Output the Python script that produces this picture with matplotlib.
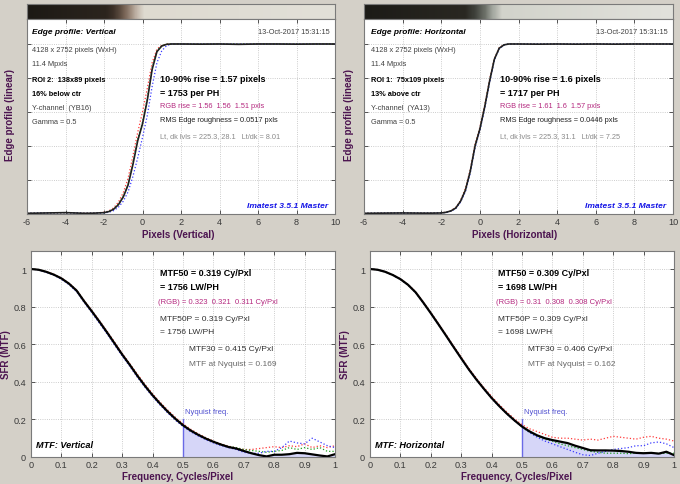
import matplotlib
matplotlib.use('Agg')
import matplotlib.pyplot as plt
from matplotlib.colors import LinearSegmentedColormap
import numpy as np

plt.rcParams['font.family'] = ['Liberation Sans', 'DejaVu Sans']
plt.rcParams['axes.unicode_minus'] = False

# ---------------- data ----------------
edge_x = [-6, -5, -4, -3, -2.5, -2, -1.75, -1.5, -1.25, -1.0, -0.75, -0.5, -0.25, 0.0,
          0.25, 0.5, 0.75, 1.0, 1.25, 1.5, 2, 3, 4, 5, 6, 7, 8, 9, 10]

# Vertical edge profile (Y, R, G, B)
edgeV_Y = [0.004, 0.006, 0.008, 0.004, 0.005, 0.008, 0.014, 0.028, 0.055, 0.10, 0.17, 0.29, 0.43, 0.53,
           0.67, 0.85, 0.955, 0.988, 0.998, 1.0, 1.0, 0.999, 1.0, 0.998, 1.0, 1.0, 0.999, 1.0, 1.0]
edgeV_R = [0.004, 0.006, 0.008, 0.005, 0.006, 0.010, 0.018, 0.036, 0.07, 0.125, 0.21, 0.34, 0.48, 0.60,
           0.74, 0.89, 0.97, 0.992, 1.0, 1.0, 1.0, 1.0, 1.0, 1.0, 1.0, 1.0, 1.0, 1.0, 1.0]
edgeV_G = [0.004, 0.006, 0.008, 0.004, 0.005, 0.008, 0.015, 0.030, 0.058, 0.105, 0.175, 0.30, 0.44, 0.54,
           0.68, 0.86, 0.96, 0.99, 0.998, 1.0, 1.0, 1.0, 1.0, 1.0, 1.0, 1.0, 1.0, 1.0, 1.0]
edgeV_B = [0.004, 0.006, 0.008, 0.004, 0.005, 0.007, 0.010, 0.020, 0.040, 0.075, 0.13, 0.22, 0.33, 0.45,
           0.58, 0.75, 0.89, 0.96, 0.99, 1.0, 1.0, 1.0, 1.0, 1.0, 1.0, 1.0, 1.0, 1.0, 1.0]

# Horizontal edge profile (Y, R, G, B)
edgeH_Y = [0.004, 0.005, 0.006, 0.005, 0.005, 0.006, 0.010, 0.018, 0.035, 0.075, 0.14, 0.25, 0.40, 0.50,
           0.63, 0.78, 0.91, 0.975, 0.995, 1.0, 1.0, 0.999, 1.0, 0.999, 1.0, 0.999, 1.0, 1.0, 1.0]
edgeH_R = [0.004, 0.005, 0.006, 0.005, 0.005, 0.006, 0.011, 0.020, 0.038, 0.08, 0.15, 0.26, 0.41, 0.51,
           0.64, 0.79, 0.915, 0.978, 0.996, 1.0, 1.0, 1.0, 1.0, 1.0, 1.0, 1.0, 1.0, 1.0, 1.0]
edgeH_G = [0.004, 0.005, 0.006, 0.005, 0.005, 0.006, 0.010, 0.018, 0.035, 0.075, 0.14, 0.25, 0.40, 0.50,
           0.63, 0.78, 0.91, 0.975, 0.995, 1.0, 1.0, 1.0, 1.0, 1.0, 1.0, 1.0, 1.0, 1.0, 1.0]
edgeH_B = [0.004, 0.005, 0.006, 0.005, 0.005, 0.006, 0.009, 0.016, 0.032, 0.07, 0.13, 0.24, 0.39, 0.49,
           0.62, 0.77, 0.905, 0.972, 0.994, 1.0, 1.0, 1.0, 1.0, 1.0, 1.0, 1.0, 1.0, 1.0, 1.0]

# Gradient bar (image strip) stops: position in pixels-of-edge, colour
barV_x = [-6, -1.9, -1.53, -1.2, -0.9, -0.6, -0.29, 0.08, 10]
barV_c = ['#1c1915', '#2c251e', '#3c3028', '#5a4a3e', '#7c685a', '#a08e80', '#c4b8ac', '#dedad0', '#e2e0d8']
barH_x = [-6, -0.77, -0.25, 0.27, 0.63, 1.15, 10]
barH_c = ['#1c1b17', '#2a2822', '#40423c', '#6e726a', '#a0a49c', '#d2d3cb', '#e2e2dc']

freq = [0.0, 0.025, 0.05, 0.075, 0.1, 0.125, 0.15, 0.175, 0.2, 0.225, 0.25, 0.275, 0.3, 0.325,
        0.35, 0.375, 0.4, 0.425, 0.45, 0.475, 0.5, 0.525, 0.55, 0.575, 0.6, 0.625, 0.65, 0.675,
        0.7, 0.725, 0.75, 0.775, 0.8, 0.825, 0.85, 0.875, 0.9, 0.925, 0.95, 0.975, 1.0]

mtfV_Y = [1.000, 0.996, 0.985, 0.970, 0.950, 0.922, 0.885, 0.828, 0.775, 0.720, 0.663, 0.604, 0.545, 0.490,
          0.432, 0.378, 0.328, 0.283, 0.241, 0.203, 0.169, 0.141, 0.118, 0.098, 0.081, 0.066, 0.053, 0.045,
          0.032, 0.020, 0.010, 0.003, 0.012, 0.012, 0.015, 0.022, 0.020, 0.014, 0.008, 0.003, 0.015]
mtfV_R = [1.000, 0.996, 0.986, 0.972, 0.952, 0.925, 0.888, 0.832, 0.780, 0.726, 0.670, 0.611, 0.552, 0.497,
          0.440, 0.386, 0.336, 0.291, 0.249, 0.211, 0.177, 0.148, 0.124, 0.103, 0.085, 0.070, 0.058, 0.048,
          0.040, 0.040, 0.045, 0.050, 0.055, 0.050, 0.060, 0.055, 0.070, 0.050, 0.060, 0.050, 0.060]
mtfV_G = [1.000, 0.996, 0.985, 0.970, 0.950, 0.922, 0.886, 0.829, 0.776, 0.721, 0.664, 0.606, 0.547, 0.492,
          0.434, 0.380, 0.330, 0.285, 0.243, 0.205, 0.171, 0.143, 0.120, 0.100, 0.083, 0.068, 0.056, 0.050,
          0.040, 0.035, 0.030, 0.025, 0.030, 0.035, 0.050, 0.040, 0.050, 0.040, 0.050, 0.030, 0.030]
mtfV_B = [1.000, 0.995, 0.983, 0.967, 0.946, 0.917, 0.879, 0.822, 0.768, 0.712, 0.655, 0.596, 0.537, 0.482,
          0.424, 0.371, 0.321, 0.276, 0.234, 0.196, 0.162, 0.135, 0.112, 0.092, 0.075, 0.061, 0.050, 0.040,
          0.025, 0.020, 0.020, 0.030, 0.030, 0.050, 0.085, 0.075, 0.070, 0.100, 0.080, 0.060, 0.050]

mtfH_Y = [1.000, 0.996, 0.985, 0.968, 0.946, 0.916, 0.876, 0.822, 0.765, 0.706, 0.646, 0.585, 0.525, 0.466,
          0.412, 0.362, 0.314, 0.271, 0.231, 0.195, 0.162, 0.136, 0.115, 0.100, 0.090, 0.082, 0.074, 0.060,
          0.048, 0.036, 0.035, 0.035, 0.034, 0.032, 0.028, 0.022, 0.020, 0.022, 0.018, 0.028, 0.010]
mtfH_R = [1.000, 0.996, 0.986, 0.969, 0.948, 0.918, 0.879, 0.826, 0.769, 0.711, 0.651, 0.591, 0.531, 0.473,
          0.419, 0.369, 0.322, 0.279, 0.239, 0.203, 0.172, 0.150, 0.135, 0.120, 0.105, 0.100, 0.100, 0.095,
          0.090, 0.095, 0.090, 0.100, 0.110, 0.105, 0.100, 0.095, 0.105, 0.110, 0.100, 0.095, 0.085]
mtfH_G = [1.000, 0.996, 0.985, 0.968, 0.946, 0.916, 0.876, 0.822, 0.765, 0.706, 0.646, 0.585, 0.525, 0.466,
          0.412, 0.362, 0.314, 0.271, 0.231, 0.195, 0.160, 0.130, 0.110, 0.095, 0.085, 0.070, 0.060, 0.050,
          0.040, 0.030, 0.025, 0.020, 0.020, 0.020, 0.018, 0.020, 0.020, 0.020, 0.018, 0.020, 0.020]
mtfH_B = [1.000, 0.996, 0.985, 0.967, 0.945, 0.915, 0.875, 0.820, 0.763, 0.704, 0.644, 0.583, 0.523, 0.464,
          0.410, 0.360, 0.312, 0.269, 0.229, 0.193, 0.160, 0.130, 0.105, 0.085, 0.070, 0.055, 0.040, 0.025,
          0.012, 0.008, 0.020, 0.030, 0.040, 0.045, 0.050, 0.060, 0.060, 0.075, 0.080, 0.070, 0.050]

nyquist = 0.5
nyq_marker = 0.2

edge_xticks = [-6, -4, -2, 0, 2, 4, 6, 8, 10]
edge_yticks = [0, 0.2, 0.4, 0.6, 0.8, 1.0]
mtf_xticks = [0, 0.1, 0.2, 0.3, 0.4, 0.5, 0.6, 0.7, 0.8, 0.9, 1]
mtf_xlabels = ['0', '0.1', '0.2', '0.3', '0.4', '0.5', '0.6', '0.7', '0.8', '0.9', '1']
mtf_yticks = [0, 0.2, 0.4, 0.6, 0.8, 1.0]
mtf_ylabels = ['0', '0.2', '0.4', '0.6', '0.8', '1']

# ---------------- figure ----------------
W, H = 680, 485
fig = plt.figure(figsize=(W / 100, H / 100), dpi=100, facecolor='#d4d0c8')

LAB = '#4c1450'
RED, GRN, BLU = '#ff3b3b', '#1fa01f', '#3c3cff'
MAG = '#b4287f'


def ax_at(x0, y0, x1, y1):
    return fig.add_axes([x0 / W, 1 - y1 / H, (x1 - x0) / W, (y1 - y0) / H])


def txt(x, y, s, **kw):
    kw.setdefault('va', 'center')
    fig.text(x / W, 1 - y / H, s, **kw)


def style(ax):
    ax.set_facecolor('white')
    for sp in ax.spines.values():
        sp.set_color('#7a7a7a')
        sp.set_linewidth(0.8)
    ax.tick_params(direction='in', length=3, width=0.6, colors='#3a3a3a', labelsize=6.6,
                   top=True, right=True, pad=2.5)
    ax.grid(True, linestyle=':', color='#bcbcbc', linewidth=0.6)
    ax.set_axisbelow(True)


def edge_panel(x0, x1, ex, Y, R, G, B, bx, bc):
    bar = ax_at(x0, 5, x1, 20)
    pos = [(v - ex[0]) / (ex[-1] - ex[0]) for v in bx]
    cmap = LinearSegmentedColormap.from_list('bar', list(zip(pos, bc)))
    bar.imshow(np.linspace(0, 1, 800)[None, :], cmap=cmap, aspect='auto',
               extent=[ex[0], ex[-1], 0, 1])
    bar.set_xticks([])
    bar.set_yticks([])
    for sp in bar.spines.values():
        sp.set_color('#7a7a7a')
        sp.set_linewidth(0.8)
    ax = ax_at(x0, 20, x1, 215)
    style(ax)
    ax.plot(ex, R, ':', color=RED, lw=0.9)
    ax.plot(ex, G, ':', color=GRN, lw=0.9)
    ax.plot(ex, B, ':', color=BLU, lw=0.9)
    ax.plot(ex, Y, '-', color='#202020', lw=1.2)
    ax.set_xlim(ex[0], ex[-1])
    ax.set_ylim(0, 195 / 170)
    ax.set_xticks(edge_xticks)
    ax.set_yticks(edge_yticks)
    ax.set_yticklabels([])
    return ax


def mtf_panel(x0, x1, Y, R, G, B):
    ax = ax_at(x0, 252, x1, 458)
    style(ax)
    ax.tick_params(axis='y', pad=3.5)
    f = np.array(freq)
    y = np.array(Y)
    ax.fill_between(f, 0, y, where=f >= nyquist, color='#d6d6f8', lw=0)
    ax.plot([nyquist, nyquist], [0, nyq_marker], color='#6a6ae6', lw=1.0)
    ax.plot(freq, R, ':', color=RED, lw=0.9)
    ax.plot(freq, G, ':', color=GRN, lw=0.9)
    ax.plot(freq, B, ':', color=BLU, lw=0.9)
    ax.plot(freq, Y, '-', color='black', lw=1.6)
    ax.set_xlim(0, 1)
    ax.set_ylim(0, 206 / 188)
    ax.set_xticks(mtf_xticks)
    ax.set_xticklabels(mtf_xlabels)
    ax.set_yticks(mtf_yticks)
    ax.set_yticklabels(mtf_ylabels)
    return ax


edge_panel(27, 335, edge_x, edgeV_Y, edgeV_R, edgeV_G, edgeV_B, barV_x, barV_c)
edge_panel(364, 673, edge_x, edgeH_Y, edgeH_R, edgeH_G, edgeH_B, barH_x, barH_c)
mtf_panel(31, 335, mtfV_Y, mtfV_R, mtfV_G, mtfV_B)
mtf_panel(370, 674, mtfH_Y, mtfH_R, mtfH_G, mtfH_B)

# ---------------- axis labels ----------------
lab = dict(fontsize=7, fontweight='bold', color=LAB)
txt(178, 235, 'Pixels (Vertical)', ha='center', **lab)
txt(515, 235, 'Pixels (Horizontal)', ha='center', **lab)
txt(178, 477, 'Frequency, Cycles/Pixel', ha='center', **lab)
txt(517, 477, 'Frequency, Cycles/Pixel', ha='center', **lab)
txt(10, 115, 'Edge profile (linear)', ha='center', rotation=90, **lab)
txt(349, 115, 'Edge profile (linear)', ha='center', rotation=90, **lab)
txt(6, 355, 'SFR (MTF)', ha='center', rotation=90, **lab)
txt(345, 355, 'SFR (MTF)', ha='center', rotation=90, **lab)

# ---------------- edge panel annotations ----------------
small = dict(fontsize=5.3, color='#404040')
small_b = dict(fontsize=5.3, color='black', fontweight='bold')


def edge_texts(xl, xc, xr, title, roi, pos, chan, rise, perph, rgb, rms, lvls):
    txt(xl, 32, title, fontsize=6, fontweight='bold', fontstyle='italic', color='black')
    txt(xr, 32, '13-Oct-2017 15:31:15', ha='right', **small)
    txt(xl, 51, '4128 x 2752 pixels (WxH)', **small)
    txt(xl, 64, '11.4 Mpxls', **small)
    txt(xl, 81, roi, **small_b)
    txt(xl, 94, pos, **small_b)
    txt(xl, 108, chan, **small)
    txt(xl, 122, 'Gamma = 0.5', **small)
    txt(xc, 80, rise, fontsize=6.5, fontweight='bold', color='black')
    txt(xc, 93, perph, fontsize=6.5, fontweight='bold', color='black')
    txt(xc, 107, rgb, fontsize=5.3, color=MAG)
    txt(xc, 120, rms, fontsize=5.3, color='#202020')
    txt(xc, 137, lvls, fontsize=5.3, color='#8a8a8a')
    txt(xr - 2, 206, 'Imatest 3.5.1 Master', ha='right', fontsize=6.1, fontweight='bold',
        fontstyle='italic', color='#1414e6')


edge_texts(32, 160, 330, 'Edge profile: Vertical', 'ROI 2:  138x89 pixels', '16% below ctr',
           'Y-channel  (YB16)', '10-90% rise = 1.57 pixels', '= 1753 per PH',
           'RGB rise = 1.56  1.56  1.51 pxls', 'RMS Edge roughness = 0.0517 pxls',
           'Lt, dk lvls = 225.3, 28.1   Lt/dk = 8.01')
edge_texts(371, 500, 668, 'Edge profile: Horizontal', 'ROI 1:  75x109 pixels', '13% above ctr',
           'Y-channel  (YA13)', '10-90% rise = 1.6 pixels', '= 1717 per PH',
           'RGB rise = 1.61  1.6  1.57 pxls', 'RMS Edge roughness = 0.0446 pxls',
           'Lt, dk lvls = 225.3, 31.1   Lt/dk = 7.25')

# ---------------- MTF panel annotations ----------------


def mtf_texts(xa, xb, xq, xt, title, m50, lw, rgb, m50p, lwp, m30, nyq):
    txt(xa, 273, m50, fontsize=6.5, fontweight='bold', color='black')
    txt(xa, 287, lw, fontsize=6.5, fontweight='bold', color='black')
    txt(xa - 2, 302, rgb, fontsize=5.5, color=MAG)
    txt(xa, 320, m50p, fontsize=6, color='#303030')
    txt(xa, 333, lwp, fontsize=6, color='#303030')
    txt(xb, 350, m30, fontsize=6, color='#303030')
    txt(xb, 365, nyq, fontsize=6, color='#6a6a6a')
    txt(xq, 413, 'Nyquist freq.', fontsize=5.5, color='#5050d0')
    txt(xt, 446, title, fontsize=6.6, fontweight='bold', fontstyle='italic', color='black')


mtf_texts(160, 189, 185, 36, 'MTF: Vertical', 'MTF50 = 0.319 Cy/Pxl', '= 1756 LW/PH',
          '(RGB) = 0.323  0.321  0.311 Cy/Pxl', 'MTF50P = 0.319 Cy/Pxl', '= 1756 LW/PH',
          'MTF30 = 0.415 Cy/Pxl', 'MTF at Nyquist = 0.169')
mtf_texts(498, 528, 524, 375, 'MTF: Horizontal', 'MTF50 = 0.309 Cy/Pxl', '= 1698 LW/PH',
          '(RGB) = 0.31  0.308  0.308 Cy/Pxl', 'MTF50P = 0.309 Cy/Pxl', '= 1698 LW/PH',
          'MTF30 = 0.406 Cy/Pxl', 'MTF at Nyquist = 0.162')

fig.savefig('out.png', dpi=100, facecolor=fig.get_facecolor())
